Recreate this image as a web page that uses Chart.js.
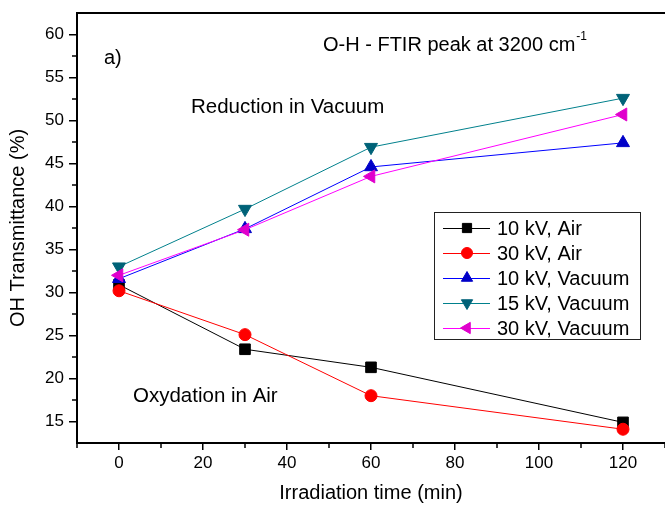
<!DOCTYPE html>
<html><head><meta charset="utf-8">
<script src="https://cdn.jsdelivr.net/npm/chart.js@4.4.0/dist/chart.umd.min.js"></script>
<style>html,body{margin:0;padding:0;background:#fff;overflow:hidden}#wrap{width:665px;height:505px}</style>
</head><body><div id="wrap"><canvas id="c" width="665" height="505"></canvas></div>
<script>
// ---- data ----
const times = [0, 30, 60, 120];
const seriesNames = ['10 kV, Air', '30 kV, Air', '10 kV, Vacuum', '15 kV, Vacuum', '30 kV, Vacuum'];
const air10kV = [30.9, 23.4, 21.3, 14.9];
const air30kV = [30.2, 25.1, 18.0, 14.1];
const vac10kV = [31.6, 37.4, 44.6, 47.4];
const vac15kV = [33.0, 39.7, 46.9, 52.6];
const vac30kV = [32.0, 37.3, 43.5, 50.7];
const xTickValues = [0, 20, 40, 60, 80, 100, 120];
const xMinorValues = [-10, 10, 30, 50, 70, 90, 110, 130];
const yTickValues = [15, 20, 25, 30, 35, 40, 45, 50, 55, 60];
const yMinorValues = [17.5, 22.5, 27.5, 32.5, 37.5, 42.5, 47.5, 52.5, 57.5];

const FONT = 'Liberation Sans, Arial, sans-serif';
const lineColors = ['#000000', '#ff0000', '#0000ff', '#00808c', '#ff00ff'];
const markColors = ['#000000', '#ff0000', '#0000c8', '#006278', '#e000cc'];
const styles = [
  {pointStyle: 'rect', radius: 7.5, rotation: 0},
  {pointStyle: 'circle', radius: 6, rotation: 0},
  {pointStyle: 'triangle', radius: 7.5, rotation: 0},
  {pointStyle: 'triangle', radius: 7.5, rotation: 180},
  {pointStyle: 'triangle', radius: 7.5, rotation: 270}
];
const seriesValues = [air10kV, air30kV, vac10kV, vac15kV, vac30kV];

const datasets = seriesValues.map((vals, i) => ({
  label: seriesNames[i],
  data: times.map((t, j) => ({x: t, y: vals[j]})),
  borderColor: lineColors[i],
  backgroundColor: markColors[i],
  pointBackgroundColor: markColors[i],
  pointBorderColor: markColors[i],
  pointBorderWidth: 1,
  borderWidth: 1,
  pointStyle: styles[i].pointStyle,
  pointRadius: styles[i].radius,
  pointRotation: styles[i].rotation,
  tension: 0,
  clip: false,
  order: 5 - i
}));

function drawMarker(ctx, style, color, x, y, r) {
  ctx.save();
  ctx.fillStyle = color; ctx.strokeStyle = color; ctx.lineWidth = 1;
  ctx.beginPath();
  if (style.pointStyle === 'rect') {
    const s = r * Math.SQRT1_2;
    ctx.rect(x - s, y - s, 2 * s, 2 * s);
  } else if (style.pointStyle === 'circle') {
    ctx.arc(x, y, r, 0, Math.PI * 2);
  } else {
    let rad = style.rotation * Math.PI / 180;
    ctx.moveTo(x + Math.sin(rad) * r, y - Math.cos(rad) * r);
    rad += 2 * Math.PI / 3;
    ctx.lineTo(x + Math.sin(rad) * r, y - Math.cos(rad) * r);
    rad += 2 * Math.PI / 3;
    ctx.lineTo(x + Math.sin(rad) * r, y - Math.cos(rad) * r);
    ctx.closePath();
  }
  ctx.fill(); ctx.stroke();
  ctx.restore();
}

const decor = {
  id: 'decor',
  afterDraw(chart) {
    const ctx = chart.ctx;
    const a = chart.chartArea;
    const xs = chart.scales.x, ys = chart.scales.y;
    ctx.save();
    // top frame line
    ctx.strokeStyle = '#000'; ctx.lineWidth = 2;
    ctx.beginPath(); ctx.moveTo(a.left - 1, a.top); ctx.lineTo(a.right + 2, a.top); ctx.stroke();
    // minor ticks
    ctx.lineWidth = 1.5;
    ctx.beginPath();
    xMinorValues.forEach(v => { const px = Math.round(xs.getPixelForValue(v)); ctx.moveTo(px, a.bottom); ctx.lineTo(px, a.bottom + 5); });
    yMinorValues.forEach(v => { const py = Math.round(ys.getPixelForValue(v)); ctx.moveTo(a.left, py); ctx.lineTo(a.left - 5, py); });
    ctx.stroke();
    // annotations
    ctx.fillStyle = '#000';
    ctx.textBaseline = 'middle'; ctx.textAlign = 'left';
    ctx.font = '20px ' + FONT;
    ctx.fillText('a)', 104, 58);
    const t1 = 'O-H - FTIR peak at 3200 cm';
    ctx.fillText(t1, 323, 45);
    const w1 = ctx.measureText(t1).width;
    ctx.font = '12px ' + FONT;
    ctx.fillText('-1', 323 + w1 + 1, 37);
    ctx.font = '20.5px ' + FONT;
    ctx.fillText('Reduction in Vacuum', 191, 107);
    ctx.fillText('Oxydation in Air', 133, 396);
    // legend
    const bx = 434, by = 212, bw = 206, bh = 127;
    ctx.fillStyle = '#fff';
    ctx.fillRect(bx, by, bw, bh);
    ctx.strokeStyle = '#222'; ctx.lineWidth = 1;
    ctx.strokeRect(bx + 0.5, by + 0.5, bw, bh);
    const rowY = [228, 253, 278, 303, 328];
    ctx.font = '20px ' + FONT;
    seriesNames.forEach((name, i) => {
      const y = rowY[i];
      ctx.strokeStyle = lineColors[i]; ctx.lineWidth = 1;
      ctx.beginPath(); ctx.moveTo(443, y + 0.5); ctx.lineTo(490, y + 0.5); ctx.stroke();
      drawMarker(ctx, styles[i], markColors[i], 467, y, styles[i].pointStyle === 'circle' ? 5.5 : 6.5);
      ctx.fillStyle = '#000';
      ctx.textBaseline = 'middle';
      ctx.fillText(name, 497, y + 1);
    });
    ctx.restore();
  }
};

new Chart(document.getElementById('c'), {
  type: 'line',
  data: {datasets},
  options: {
    responsive: false,
    animation: false,
    devicePixelRatio: 1,
    layout: {autoPadding: false, padding: {left: 0, top: 13, right: -2, bottom: 0}},
    plugins: {legend: {display: false}, tooltip: {enabled: false}},
    scales: {
      x: {
        type: 'linear', position: 'bottom', min: -10, max: 130,
        afterBuildTicks: s => { s.ticks = xTickValues.map(v => ({value: v})); },
        afterFit: s => { s.height = 62; s.paddingLeft = 0; s.paddingRight = 0; },
        grid: {drawOnChartArea: false, drawTicks: true, tickLength: 7, color: '#000', lineWidth: 1.5},
        border: {display: true, color: '#000', width: 2},
        ticks: {color: '#000', font: {family: FONT, size: 17}, padding: 3, maxRotation: 0, autoSkip: false},
        title: {display: true, text: 'Irradiation time (min)', color: '#000', font: {family: FONT, size: 20}, padding: {top: 0, bottom: 0}}
      },
      y: {
        type: 'linear', position: 'left', min: 12.5, max: 62.5,
        afterBuildTicks: s => { s.ticks = yTickValues.map(v => ({value: v})); },
        afterFit: s => { s.width = 77; s.paddingTop = 0; s.paddingBottom = 0; },
        grid: {drawOnChartArea: false, drawTicks: true, tickLength: 8, color: '#000', lineWidth: 1.5},
        border: {display: true, color: '#000', width: 2},
        ticks: {color: '#000', font: {family: FONT, size: 17}, padding: 5, autoSkip: false},
        title: {display: true, text: 'OH Transmittance (%)', color: '#000', font: {family: FONT, size: 20}, padding: {top: 6, bottom: 0}}
      }
    }
  },
  plugins: [decor]
});
</script>
</body></html>
